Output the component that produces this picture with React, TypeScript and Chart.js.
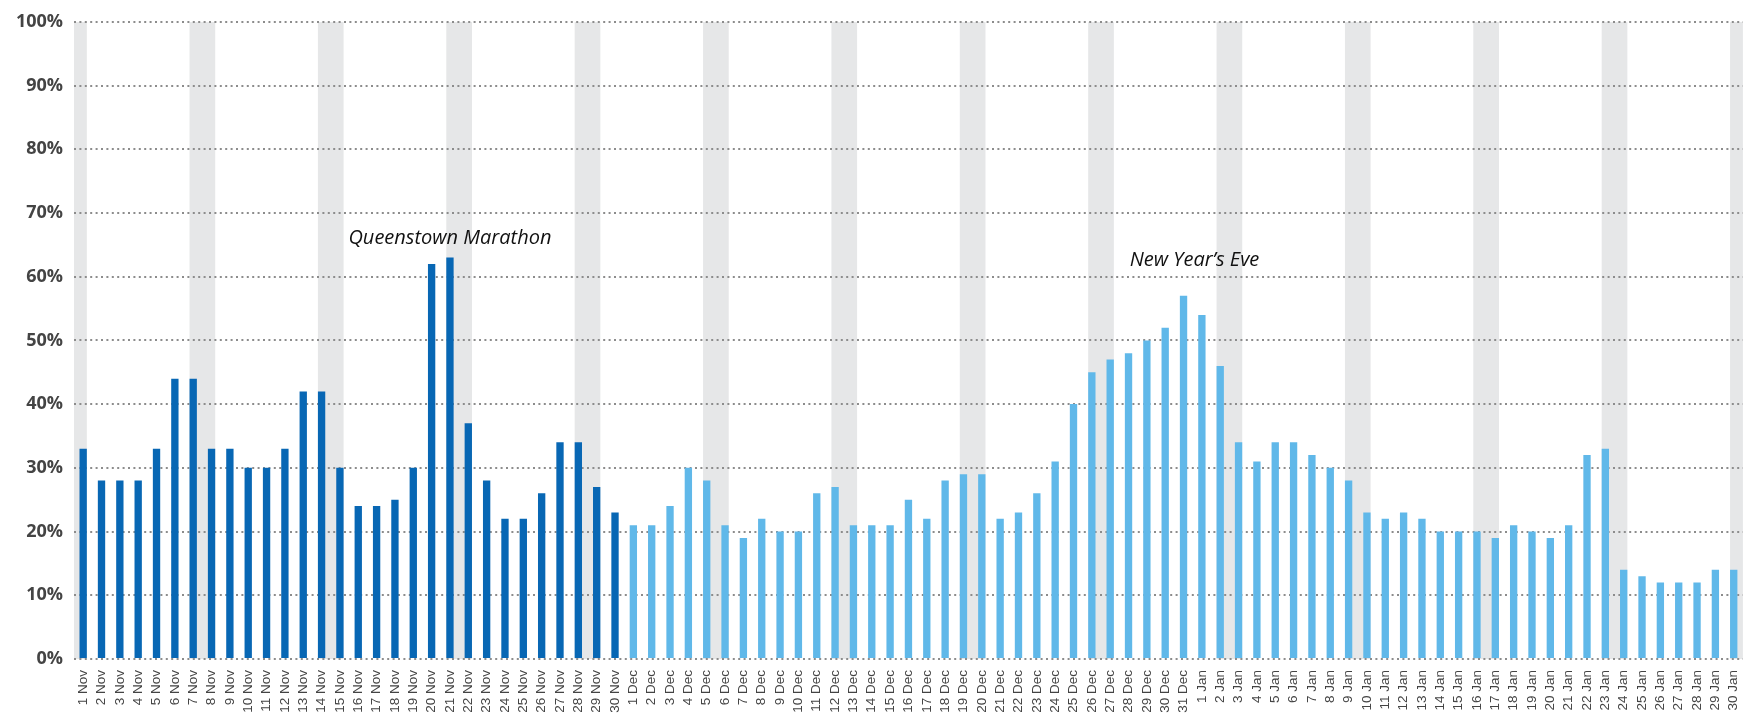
import React, { useEffect, useRef } from "react";
import { Chart, registerables } from "chart.js";

Chart.register(...registerables);

const novValues = [33, 28, 28, 28, 33, 44, 44, 33, 33, 30, 30, 33, 42, 42, 30, 24, 24, 25, 30, 62, 63, 37, 28, 22, 22, 26, 34, 34, 27, 23];
const decValues = [21, 21, 24, 30, 28, 21, 19, 22, 20, 20, 26, 27, 21, 21, 21, 25, 22, 28, 29, 29, 22, 23, 26, 31, 40, 45, 47, 48, 50, 52, 57];
const janValues = [54, 46, 34, 31, 34, 34, 32, 30, 28, 23, 22, 23, 22, 20, 20, 20, 19, 21, 20, 19, 21, 32, 33, 14, 13, 12, 12, 12, 14, 14];

const monthNames = ["Nov", "Dec", "Jan"];
const monthValues = [novValues, decValues, janValues];
const monthColors = ["#0867b4", "#60b8e9", "#60b8e9"];

const labels: string[] = [];
const values: number[] = [];
const colors: string[] = [];
monthValues.forEach((arr, m) => {
  arr.forEach((v, i) => {
    labels.push(`${i + 1} ${monthNames[m]}`);
    values.push(v);
    colors.push(monthColors[m]);
  });
});

// index of each Saturday (weekend band spans Saturday + Sunday); -1 = 31 Oct
const weekendSaturdayIndex = [-1, 6, 13, 20, 27, 34, 41, 48, 55, 62, 69, 76, 83, 90];

const yTicks = [0, 10, 20, 30, 40, 50, 60, 70, 80, 90, 100];

const annotations = [
  { text: "Queenstown Marathon", index: 20, value: 65.1 },
  { text: "New Year\u2019s Eve", index: 60.6, value: 61.7 },
];

const BAR_PCT = 0.4;

const weekendPlugin = {
  id: "weekendBands",
  beforeDraw(chart: any) {
    const { ctx, chartArea } = chart;
    if (!chartArea) return;
    const n = labels.length;
    const cw = (chartArea.right - chartArea.left) / n;
    const half = (cw * BAR_PCT) / 2;
    ctx.save();
    ctx.beginPath();
    ctx.rect(chartArea.left, chartArea.top, chartArea.right - chartArea.left, chartArea.bottom - chartArea.top);
    ctx.clip();
    ctx.fillStyle = "#e6e7e8";
    weekendSaturdayIndex.forEach((s) => {
      const x0 = chartArea.left + (s + 0.5) * cw - half;
      const x1 = chartArea.left + (s + 1.5) * cw + half;
      ctx.fillRect(x0, chartArea.top, x1 - x0, chartArea.bottom - chartArea.top);
    });
    ctx.restore();
  },
};

const annotationPlugin = {
  id: "textNotes",
  afterDatasetsDraw(chart: any) {
    const { ctx, chartArea, scales } = chart;
    const n = labels.length;
    const cw = (chartArea.right - chartArea.left) / n;
    ctx.save();
    ctx.font = "italic 20px 'Open Sans', 'Noto Sans', sans-serif";
    ctx.fillStyle = "#111111";
    ctx.textAlign = "center";
    ctx.textBaseline = "alphabetic";
    annotations.forEach((a) => {
      const x = chartArea.left + (a.index + 0.5) * cw;
      const y = scales.y.getPixelForValue(a.value);
      ctx.fillText(a.text, x, y);
    });
    ctx.restore();
  },
};

export default function App() {
  const ref = useRef<HTMLCanvasElement | null>(null);
  useEffect(() => {
    if (!ref.current) return;
    const chart = new Chart(ref.current, {
      type: "bar",
      data: {
        labels,
        datasets: [
          {
            data: values,
            backgroundColor: colors,
            borderWidth: 0,
            barPercentage: BAR_PCT,
            categoryPercentage: 1,
          },
        ],
      },
      options: {
        responsive: false,
        devicePixelRatio: 1,
        animation: false,
        layout: { padding: { top: 11, right: 13, left: 0, bottom: 0 } },
        plugins: { legend: { display: false }, tooltip: { enabled: false } },
        scales: {
          x: {
            grid: { display: false, drawTicks: false },
            border: { display: false },
            ticks: {
              autoSkip: false,
              maxRotation: 90,
              minRotation: 90,
              padding: 11,
              color: "#444444",
              font: { family: "'Liberation Sans', Arial, sans-serif", size: 13.5 },
            },
            afterFit(scale: any) {
              scale.height = 61;
            },
          },
          y: {
            min: 0,
            max: 100,
            afterBuildTicks(scale: any) {
              scale.ticks = yTicks.map((v) => ({ value: v }));
            },
            grid: {
              color: "#8c8c8c",
              lineWidth: 2,
              drawTicks: false,
            },
            border: { display: false, dash: [2, 3.4] },
            ticks: {
              padding: 11,
              color: "#444444",
              font: { family: "'Open Sans', sans-serif", size: 18, weight: "bold" },
              callback: (v: any) => `${v}%`,
            },
            afterFit(scale: any) {
              scale.width = 74;
            },
          },
        },
      },
      plugins: [weekendPlugin, annotationPlugin],
    } as any);
    return () => chart.destroy();
  }, []);
  return (
    <div style={{ position: "fixed", left: 0, top: 0, width: 1761, height: 720, background: "#fff" }}>
      <canvas ref={ref} width={1761} height={720} />
    </div>
  );
}
